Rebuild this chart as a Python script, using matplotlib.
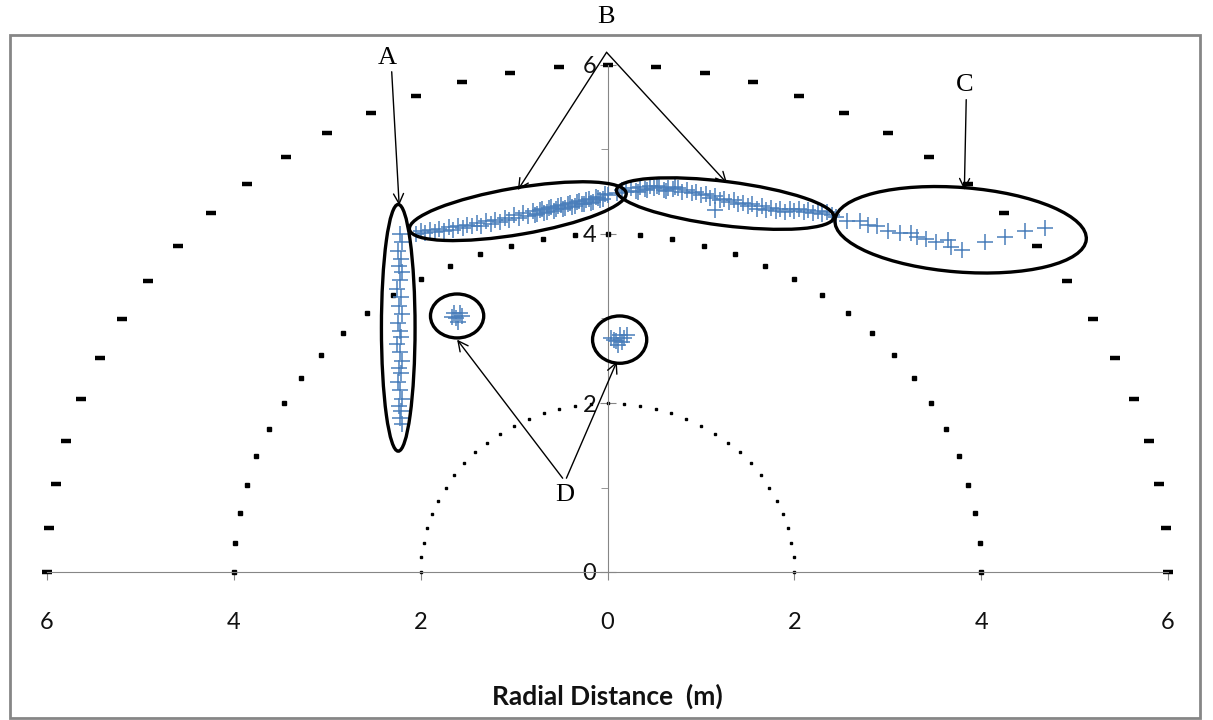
import numpy as np
import matplotlib
matplotlib.use("Agg")
import matplotlib.pyplot as plt
from matplotlib.patches import Ellipse, Rectangle
from matplotlib.ticker import FuncFormatter, MultipleLocator

# reference semicircles (radius in m, angle step in degrees)
ring_radii = [2, 4, 6]
ring_angles = np.arange(0, 181, 5)

# cluster A - vertical column left of the centre line
a_x = [-2.22, -2.20, -2.24, -2.21, -2.23, -2.20, -2.22, -2.25, -2.21, -2.23,
       -2.20, -2.24, -2.22, -2.21, -2.25, -2.22, -2.20, -2.23, -2.21, -2.24,
       -2.22, -2.20, -2.23, -2.21, -2.22, -2.20]
a_y = [4.00, 3.90, 3.80, 3.70, 3.62, 3.55, 3.45, 3.35, 3.25, 3.15,
       3.05, 2.95, 2.85, 2.78, 2.70, 2.60, 2.50, 2.42, 2.35, 2.25,
       2.15, 2.05, 1.97, 1.90, 1.82, 1.75]

# cluster B - two lobes either side of the centre line
b_left_x = [-2.05, -2.00, -1.95, -1.90, -1.85, -1.80, -1.75, -1.70, -1.65, -1.60,
            -1.55, -1.50, -1.45, -1.40, -1.35, -1.30, -1.25, -1.20, -1.15, -1.10,
            -1.05, -1.00, -0.95, -0.90, -0.85, -0.80, -0.75, -0.70, -0.65, -0.60,
            -0.55, -0.50, -0.45, -0.40, -0.35, -0.30, -0.25, -0.20, -0.15, -0.10,
            -0.05, 0.00,
            -0.775, -0.725, -0.675, -0.625, -0.575, -0.525, -0.475, -0.425,
            -0.375, -0.325, -0.275, -0.225, -0.175, -0.125, -0.075, -0.025]
b_left_y = [4.00, 4.03, 4.01, 4.05, 4.02, 4.06, 4.04, 4.08, 4.05, 4.09,
            4.07, 4.11, 4.09, 4.13, 4.10, 4.15, 4.12, 4.17, 4.14, 4.19,
            4.16, 4.22, 4.19, 4.25, 4.21, 4.27, 4.24, 4.30, 4.26, 4.32,
            4.29, 4.34, 4.31, 4.37, 4.33, 4.39, 4.36, 4.41, 4.38, 4.43,
            4.41, 4.46,
            4.22, 4.28, 4.25, 4.31, 4.27, 4.33, 4.30, 4.35,
            4.32, 4.38, 4.35, 4.40, 4.37, 4.44, 4.40, 4.47]
b_right_x = [0.10, 0.15, 0.20, 0.25, 0.30, 0.35, 0.40, 0.45, 0.50, 0.55,
             0.60, 0.65, 0.70, 0.75, 0.80, 0.85, 0.90, 0.95, 1.00, 1.05,
             1.10, 1.15, 1.20, 1.25, 1.30, 1.35, 1.40, 1.45, 1.50, 1.55,
             1.60, 1.65, 1.70, 1.75, 1.80, 1.85, 1.90, 1.95, 2.00, 2.05,
             2.10, 2.15, 2.20, 2.25, 2.30, 2.35, 2.40, 1.15,
             0.325, 0.425, 0.525, 0.625, 0.725]
b_right_y = [4.48, 4.52, 4.50, 4.55, 4.51, 4.56, 4.53, 4.57, 4.54, 4.56,
             4.52, 4.55, 4.53, 4.54, 4.50, 4.52, 4.49, 4.50, 4.46, 4.47,
             4.43, 4.45, 4.40, 4.42, 4.38, 4.40, 4.35, 4.37, 4.33, 4.35,
             4.30, 4.33, 4.28, 4.31, 4.27, 4.30, 4.26, 4.29, 4.27, 4.30,
             4.26, 4.28, 4.25, 4.27, 4.24, 4.26, 4.23, 4.28,
             4.50, 4.52, 4.57, 4.51, 4.56]

# cluster C - sparse tail on the right
c_x = [2.45, 2.56, 2.70, 2.79, 2.89, 3.00, 3.13, 3.25, 3.31, 3.41,
       3.52, 3.64, 3.68, 3.80, 4.04, 4.25, 4.47, 4.68]
c_y = [4.20, 4.15, 4.15, 4.11, 4.09, 4.03, 4.01, 4.01, 3.97, 3.94,
       3.91, 3.93, 3.85, 3.81, 3.91, 3.97, 4.03, 4.07]

# clusters D - two small blobs
d_x = [-1.64, -1.58, -1.62, -1.56, -1.66, -1.60,
       0.07, 0.13, 0.18, 0.11, 0.15, 0.04, 0.21, 0.09]
d_y = [3.07, 3.07, 3.01, 3.03, 3.02, 2.96,
       2.75, 2.80, 2.77, 2.69, 2.72, 2.77, 2.80, 2.73]

blue = '#4a7ebb'
grey = '#868686'

fig = plt.figure(figsize=(12.13, 7.2), dpi=100)
fig.patches.append(Rectangle((10 / 1213, 2 / 720), 1190 / 1213, 683 / 720,
                             transform=fig.transFigure, fill=False,
                             edgecolor=grey, linewidth=2))
ax = fig.add_axes([47 / 1213, 148 / 720, 1121 / 1213, 507 / 720])

# semicircles
ring_styles = {2: dict(marker='s', markersize=1.7),
               4: dict(marker='s', markersize=2.2),
               6: dict(marker='_', markersize=6.5, markeredgewidth=3.2)}
for r in ring_radii:
    th = np.radians(ring_angles)
    ax.plot(r * np.cos(th), r * np.sin(th), linestyle='none', color='black',
            clip_on=False, zorder=2, **ring_styles[r])

# measured points
all_x = a_x + b_left_x + b_right_x + c_x + d_x
all_y = a_y + b_left_y + b_right_y + c_y + d_y
ax.plot(all_x, all_y, linestyle='none', marker='+', markersize=12,
        markeredgewidth=1.1, color=blue, zorder=3)

# circled groups
ellipses = [((-2.24, 2.89), 0.36, 2.92, 0),
            ((-0.96, 4.27), 2.36, 0.55, 10.7),
            ((1.26, 4.36), 2.35, 0.52, -8),
            ((3.78, 4.05), 2.70, 1.00, -5),
            ((-1.61, 3.03), 0.57, 0.52, 0),
            ((0.13, 2.75), 0.58, 0.56, 0)]
for c, w, h, ang in ellipses:
    ax.add_patch(Ellipse(c, w, h, angle=ang, fill=False, edgecolor='black',
                         linewidth=2.4, zorder=4))

# labels and arrows
serif = dict(family='Liberation Serif', fontsize=19, ha='center', va='center')
arrow = dict(arrowstyle='->', color='black', lw=1, shrinkA=0, shrinkB=0,
             mutation_scale=18)
ax.text(-2.36, 6.08, 'A', **serif)
ax.annotate('', xy=(-2.23, 4.34), xytext=(-2.31, 5.92), arrowprops=arrow,
            annotation_clip=False)
ax.text(-0.02, 6.57, 'B', clip_on=False, **serif)
ax.annotate('', xy=(-0.96, 4.52), xytext=(-0.01, 6.15), arrowprops=arrow,
            annotation_clip=False)
ax.annotate('', xy=(1.28, 4.60), xytext=(-0.01, 6.15), arrowprops=arrow,
            annotation_clip=False)
ax.text(3.82, 5.76, 'C', **serif)
ax.annotate('', xy=(3.82, 4.52), xytext=(3.84, 5.59), arrowprops=arrow,
            annotation_clip=False)
ax.text(-0.46, 0.91, 'D', **serif)
ax.annotate('', xy=(-1.61, 2.75), xytext=(-0.48, 1.11), arrowprops=arrow,
            annotation_clip=False)
ax.annotate('', xy=(0.10, 2.49), xytext=(-0.44, 1.11), arrowprops=arrow,
            annotation_clip=False)

# axes in Excel style: x axis along y=0, y axis at x=0
ax.set_xlim(-6, 6)
ax.set_ylim(0, 6)
for s in ['top', 'right']:
    ax.spines[s].set_visible(False)
ax.spines['left'].set_position(('data', 0))
ax.spines['left'].set_color(grey)
ax.spines['bottom'].set_color(grey)
ax.xaxis.set_major_locator(MultipleLocator(2))
ax.yaxis.set_major_locator(MultipleLocator(2))
ax.yaxis.set_minor_locator(MultipleLocator(1))
fmt = FuncFormatter(lambda v, p: f"{abs(v):g}")
ax.xaxis.set_major_formatter(fmt)
ax.yaxis.set_major_formatter(fmt)
ax.tick_params(axis='x', direction='out', length=6, color=grey, pad=23,
               labelsize=17, labelcolor='#111111')
ax.tick_params(axis='y', which='major', direction='inout', length=12, color=grey,
               pad=2, labelsize=17, labelcolor='#111111')
ax.tick_params(axis='y', which='minor', direction='out', length=5, color=grey)
for lab in ax.get_xticklabels() + ax.get_yticklabels():
    lab.set_family('Lato')
ax.set_xlabel('Radial Distance  (m)', family='Lato', fontweight='bold',
              fontsize=19, labelpad=36, color='#111111')
ax.patch.set_visible(False)

fig.savefig('out.png', dpi=100)
